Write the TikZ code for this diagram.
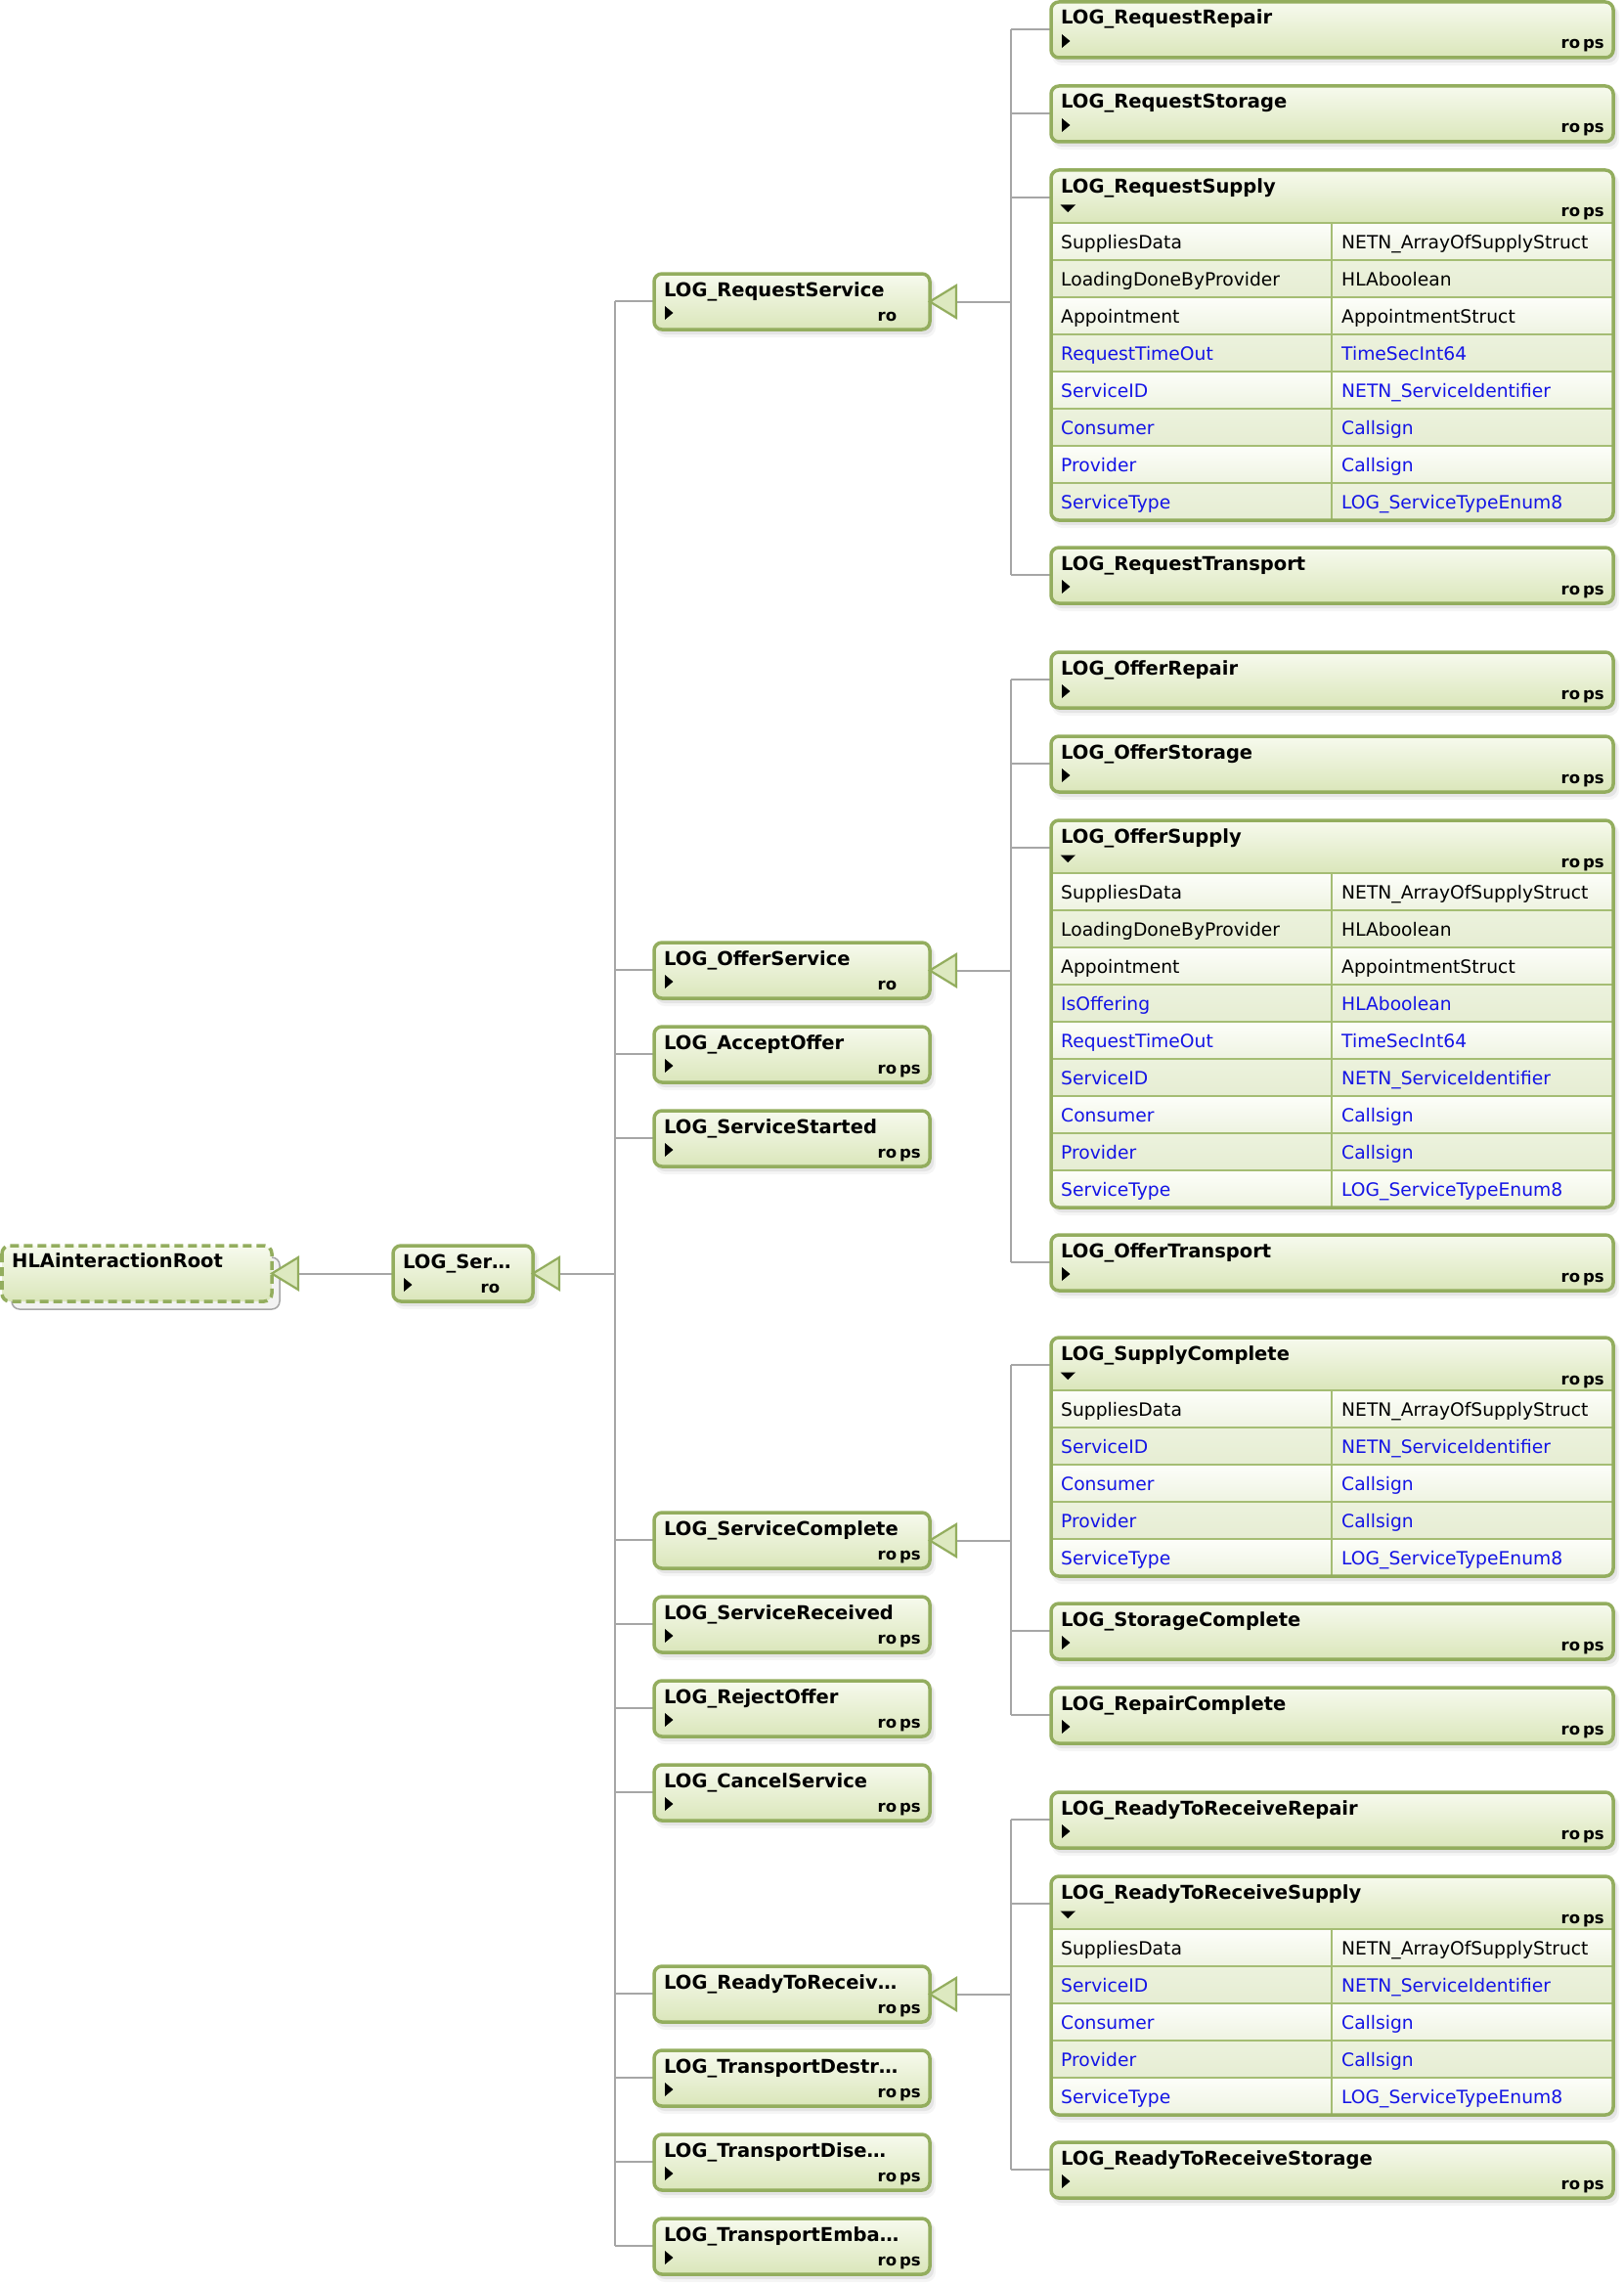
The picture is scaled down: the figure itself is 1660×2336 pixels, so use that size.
\documentclass[tikz,border=0pt]{standalone}
\usepackage{fontspec}
\setmainfont{DejaVu Sans}
\usetikzlibrary{calc,backgrounds}

\definecolor{bord}{HTML}{93AD5E}
\definecolor{hdrtop}{HTML}{F7FAEE}
\definecolor{hdrbot}{HTML}{DAE6BA}
\definecolor{rowA1}{HTML}{FDFEFA}
\definecolor{rowA2}{HTML}{EEF3E1}
\definecolor{rowB1}{HTML}{ECF2DD}
\definecolor{rowB2}{HTML}{E6EDD3}
\definecolor{sepcol}{HTML}{A5BD74}
\definecolor{conncol}{HTML}{A6A6A6}
\definecolor{trifill}{HTML}{DDE9C0}
\definecolor{lnk}{HTML}{1414E6}

\tikzset{
  boxborder/.style={draw=bord, line width=3.5pt, rounded corners=8pt},
  conn/.style={draw=conncol, line width=2pt},
  gentri/.style={draw=bord, line width=2.2pt, fill=trifill, line join=miter},
  sepline/.style={draw=sepcol, line width=1.5pt},
  ttl/.style={font=\fontsize{19.5}{22}\selectfont\bfseries, anchor=base west, inner sep=0pt},
  flg/.style={font=\fontsize{16.5}{18}\selectfont\bfseries, anchor=base east, inner sep=0pt},
  cell/.style={font=\fontsize{18.7}{22}\selectfont, anchor=base west, inner sep=0pt},
}

% flag labels
\newcommand{\rops}{ro\kern3pt ps}
\newcommand{\ro}{ro\kern3pt\phantom{ps}}

% collapse / expand markers
\newcommand{\mkright}[1]{\fill ($(#1.north west)+(11,33)$) -- ($(#1.north west)+(19.5,40)$) -- ($(#1.north west)+(11,47)$) -- cycle;}
\newcommand{\mkdown}[1]{\fill ($(#1.north west)+(9.5,35.5)$) -- ($(#1.north west)+(25,35.5)$) -- ($(#1.north west)+(17.25,43)$) -- cycle;}
\newcommand{\mknone}[1]{}

% node frame, shadow and attachment point of a class box
\newcommand{\classbody}[5]{%
  \node[inner sep=0pt, outer sep=0pt, minimum width=#4pt, minimum height=#5pt, anchor=north west] (#1) at (#2,#3) {};
  \coordinate (#1-in) at ($(#1.north west)+(0,28)$);
  \fill[black, opacity=0.04, rounded corners=10pt] ($(#1.north west)+(1,3)$) rectangle ($(#1.south east)+(6,8)$);
  \fill[black, opacity=0.07, rounded corners=9pt] ($(#1.north west)+(2,3)$) rectangle ($(#1.south east)+(4,5)$);
}

% class box with header only: name, left, top, width, title, marker, flags
\newcommand{\plainbox}[7]{%
  \classbody{#1}{#2}{#3}{#4}{57}
  \shade[top color=hdrtop, bottom color=hdrbot, rounded corners=8pt] (#1.north west) rectangle (#1.south east);
  \draw[boxborder] (#1.north west) rectangle (#1.south east);
  #6{#1}
  \node[ttl] at ($(#1.north west)+(10,23)$) {#5};
  \node[flg] at ($(#1.north east)+(-9,48)$) {#7};
}

% expanded class box with parameter table: name, left, top, rows, title, row list
\newcommand{\tablebox}[6]{%
  \pgfmathsetmacro\tbH{54+38*#4}
  \classbody{#1}{#2}{#3}{575}{\tbH}
  \begin{scope}
    \clip[rounded corners=8pt] (#1.north west) rectangle (#1.south east);
    \shade[top color=hdrtop, bottom color=hdrbot] (#1.north west) rectangle ($(#1.north east)+(0,54)$);
    \foreach \k/\v/\c [count=\i] in {#6} {
      \pgfmathsetmacro\ry{#3+54+38*(\i-1)}
      \ifodd\i
        \shade[top color=rowA1, bottom color=rowA2] (#2,\ry) rectangle ++(575,38);
      \else
        \shade[top color=rowB1, bottom color=rowB2] (#2,\ry) rectangle ++(575,38);
      \fi
      \draw[sepline] (#2,\ry) -- ++(575,0);
      \node[cell, text=\c] at ({#2+10},{\ry+26}) {\k};
      \node[cell, text=\c] at ({#2+297},{\ry+26}) {\v};
    }
    \draw[sepline] ({#2+287},{#3+54}) -- ({#2+287},{#3+\tbH});
  \end{scope}
  \draw[boxborder] (#1.north west) rectangle (#1.south east);
  \mkdown{#1}
  \node[ttl] at ($(#1.north west)+(10,23)$) {#5};
  \node[flg] at ($(#1.north east)+(-9,48)$) {\rops};
}

% generalization arrow head at the right side of a parent class
\newcommand{\gentri}[1]{\draw[gentri] (#1.east) -- ($(#1.east)+(27,-16.5)$) -- ($(#1.east)+(27,16.5)$) -- cycle;}

\begin{document}
\begin{tikzpicture}[x=1pt,y=-1pt]
\useasboundingbox (0,0) rectangle (1660,2336);

% ---------- root class ----------
\node[inner sep=0pt, outer sep=0pt, minimum width=276pt, minimum height=57pt, anchor=north west] (root) at (2,1274) {};
\filldraw[fill=black!5, draw=conncol, line width=1.5pt, rounded corners=8pt] ($(root.north west)+(10,12)$) rectangle ($(root.south east)+(8,8)$);
\shade[top color=hdrtop, bottom color=hdrbot, rounded corners=8pt] (root.north west) rectangle (root.south east);
\draw[boxborder, dash pattern=on 9pt off 5pt] (root.north west) rectangle (root.south east);
\node[ttl] at ($(root.north west)+(10,22)$) {HLAinteractionRoot};

% ---------- second level ----------
\plainbox{ser}{402}{1274}{143}{LOG\_Ser…}{\mkright}{\ro}

% ---------- third level ----------
\plainbox{rsv}{669}{280}{282}{LOG\_RequestService}{\mkright}{\ro}
\plainbox{osv}{669}{964}{282}{LOG\_OfferService}{\mkright}{\ro}
\plainbox{acc}{669}{1050}{282}{LOG\_AcceptOffer}{\mkright}{\rops}
\plainbox{sst}{669}{1136}{282}{LOG\_ServiceStarted}{\mkright}{\rops}
\plainbox{scp}{669}{1547}{282}{LOG\_ServiceComplete}{\mknone}{\rops}
\plainbox{srv}{669}{1633}{282}{LOG\_ServiceReceived}{\mkright}{\rops}
\plainbox{rej}{669}{1719}{282}{LOG\_RejectOffer}{\mkright}{\rops}
\plainbox{can}{669}{1805}{282}{LOG\_CancelService}{\mkright}{\rops}
\plainbox{rtr}{669}{2011}{282}{LOG\_ReadyToReceiv…}{\mknone}{\rops}
\plainbox{tde}{669}{2097}{282}{LOG\_TransportDestr…}{\mkright}{\rops}
\plainbox{tdi}{669}{2183}{282}{LOG\_TransportDise…}{\mkright}{\rops}
\plainbox{tem}{669}{2269}{282}{LOG\_TransportEmba…}{\mkright}{\rops}

% ---------- fourth level: requests ----------
\plainbox{rrep}{1075}{2}{575}{LOG\_RequestRepair}{\mkright}{\rops}
\plainbox{rsto}{1075}{88}{575}{LOG\_RequestStorage}{\mkright}{\rops}
\tablebox{rsup}{1075}{174}{8}{LOG\_RequestSupply}{
  SuppliesData/NETN\_ArrayOfSupplyStruct/black,
  LoadingDoneByProvider/HLAboolean/black,
  Appointment/AppointmentStruct/black,
  RequestTimeOut/TimeSecInt64/lnk,
  ServiceID/NETN\_ServiceIdentifier/lnk,
  Consumer/Callsign/lnk,
  Provider/Callsign/lnk,
  ServiceType/LOG\_ServiceTypeEnum8/lnk}
\plainbox{rtra}{1075}{560}{575}{LOG\_RequestTransport}{\mkright}{\rops}

% ---------- fourth level: offers ----------
\plainbox{orep}{1075}{667}{575}{LOG\_OfferRepair}{\mkright}{\rops}
\plainbox{osto}{1075}{753}{575}{LOG\_OfferStorage}{\mkright}{\rops}
\tablebox{osup}{1075}{839}{9}{LOG\_OfferSupply}{
  SuppliesData/NETN\_ArrayOfSupplyStruct/black,
  LoadingDoneByProvider/HLAboolean/black,
  Appointment/AppointmentStruct/black,
  IsOffering/HLAboolean/lnk,
  RequestTimeOut/TimeSecInt64/lnk,
  ServiceID/NETN\_ServiceIdentifier/lnk,
  Consumer/Callsign/lnk,
  Provider/Callsign/lnk,
  ServiceType/LOG\_ServiceTypeEnum8/lnk}
\plainbox{otra}{1075}{1263}{575}{LOG\_OfferTransport}{\mkright}{\rops}

% ---------- fourth level: completions ----------
\tablebox{scom}{1075}{1368}{5}{LOG\_SupplyComplete}{
  SuppliesData/NETN\_ArrayOfSupplyStruct/black,
  ServiceID/NETN\_ServiceIdentifier/lnk,
  Consumer/Callsign/lnk,
  Provider/Callsign/lnk,
  ServiceType/LOG\_ServiceTypeEnum8/lnk}
\plainbox{stcom}{1075}{1640}{575}{LOG\_StorageComplete}{\mkright}{\rops}
\plainbox{rpcom}{1075}{1726}{575}{LOG\_RepairComplete}{\mkright}{\rops}

% ---------- fourth level: ready to receive ----------
\plainbox{rtrr}{1075}{1833}{575}{LOG\_ReadyToReceiveRepair}{\mkright}{\rops}
\tablebox{rtrs}{1075}{1919}{5}{LOG\_ReadyToReceiveSupply}{
  SuppliesData/NETN\_ArrayOfSupplyStruct/black,
  ServiceID/NETN\_ServiceIdentifier/lnk,
  Consumer/Callsign/lnk,
  Provider/Callsign/lnk,
  ServiceType/LOG\_ServiceTypeEnum8/lnk}
\plainbox{rtrst}{1075}{2191}{575}{LOG\_ReadyToReceiveStorage}{\mkright}{\rops}

% ---------- inheritance connectors ----------
\coordinate (busA) at (629,0);
\coordinate (busB) at (1034,0);
\begin{scope}[on background layer]
  \draw[conn] (root.east) -- (ser.west);
  \draw[conn] (ser.east) -- (ser.east -| busA);
  \draw[conn] (busA |- rsv-in) -- (busA |- tem-in);
  \foreach \n in {rsv,osv,acc,sst,scp,srv,rej,can,rtr,tde,tdi,tem}
    \draw[conn] (busA |- \n-in) -- (\n-in);
  % requests
  \draw[conn] (rsv.east) -- (rsv.east -| busB);
  \draw[conn] (busB |- rrep-in) -- (busB |- rtra-in);
  \foreach \n in {rrep,rsto,rsup,rtra}
    \draw[conn] (busB |- \n-in) -- (\n-in);
  % offers
  \draw[conn] (osv.east) -- (osv.east -| busB);
  \draw[conn] (busB |- orep-in) -- (busB |- otra-in);
  \foreach \n in {orep,osto,osup,otra}
    \draw[conn] (busB |- \n-in) -- (\n-in);
  % completions
  \draw[conn] (scp.east) -- (scp.east -| busB);
  \draw[conn] (busB |- scom-in) -- (busB |- rpcom-in);
  \foreach \n in {scom,stcom,rpcom}
    \draw[conn] (busB |- \n-in) -- (\n-in);
  % ready to receive
  \draw[conn] (rtr.east) -- (rtr.east -| busB);
  \draw[conn] (busB |- rtrr-in) -- (busB |- rtrst-in);
  \foreach \n in {rtrr,rtrs,rtrst}
    \draw[conn] (busB |- \n-in) -- (\n-in);
\end{scope}

\gentri{root}
\gentri{ser}
\gentri{rsv}
\gentri{osv}
\gentri{scp}
\gentri{rtr}

\end{tikzpicture}
\end{document}
